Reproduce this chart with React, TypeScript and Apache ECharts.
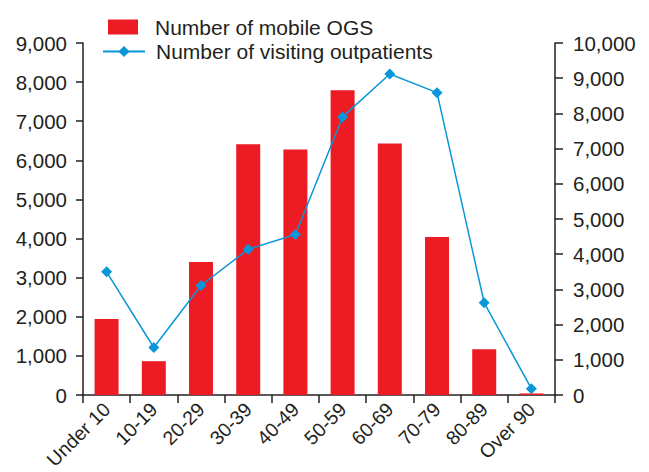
import React, { useEffect, useRef } from "react";
import * as echarts from "echarts";

const categories = ["Under 10", "10-19", "20-29", "30-39", "40-49", "50-59", "60-69", "70-79", "80-89", "Over 90"];
const mobileOGS = [1940, 865, 3400, 6410, 6280, 7790, 6430, 4040, 1170, 40];
const visitingOutpatients = [3500, 1350, 3110, 4140, 4560, 7900, 9120, 8590, 2620, 180];

const FONT = "Liberation Sans, Arial, sans-serif";
const TEXT = "#231f20";

export default function App() {
  const ref = useRef<HTMLDivElement>(null);
  useEffect(() => {
    if (!ref.current) return;
    const chart = echarts.init(ref.current, undefined, { renderer: "svg" });
    const axisLine = { show: true, lineStyle: { color: TEXT, width: 1.5 } };
    const axisTick = { show: true, length: 8, lineStyle: { color: TEXT, width: 1.5 } };
    chart.setOption({
      animation: false,
      textStyle: { fontFamily: FONT, color: TEXT },
      grid: { left: 83, right: 94, top: 43, bottom: 77, containLabel: false, outerBoundsMode: "none" },
      legend: [
        {
          data: [{ name: "Number of mobile OGS", icon: "rect" }],
          left: 108,
          top: 16.5,
          padding: 0,
          itemWidth: 30,
          itemHeight: 15,
          textStyle: { fontFamily: FONT, fontSize: 21, lineHeight: 15, color: TEXT, padding: [0, 0, 0, 12] },
        },
        {
          data: ["Number of visiting outpatients"],
          left: 102,
          top: 41,
          padding: 0,
          itemWidth: 42,
          itemHeight: 14,
          textStyle: { fontFamily: FONT, fontSize: 21, lineHeight: 14, color: TEXT, padding: [0, 0, 0, 6] },
        },
      ],
      xAxis: {
        type: "category",
        data: categories,
        axisLine,
        axisTick,
        splitLine: { show: false },
        axisLabel: { rotate: 45, fontSize: 19.5, color: TEXT, fontFamily: FONT, margin: 11, interval: 0 },
      },
      yAxis: [
        {
          type: "value",
          min: 0,
          max: 9000,
          interval: 1000,
          position: "left",
          axisLine,
          axisTick: { ...axisTick, length: 7 },
          splitLine: { show: false },
          axisLabel: { fontSize: 20.5, color: TEXT, fontFamily: FONT, margin: 16 },
        },
        {
          type: "value",
          min: 0,
          max: 10000,
          interval: 1000,
          position: "right",
          axisLine,
          axisTick,
          splitLine: { show: false },
          axisLabel: { fontSize: 20.5, color: TEXT, fontFamily: FONT, margin: 18 },
        },
      ],
      series: [
        {
          name: "Number of mobile OGS",
          type: "bar",
          data: mobileOGS,
          yAxisIndex: 0,
          barWidth: 24,
          itemStyle: { color: "#ed1c24" },
        },
        {
          name: "Number of visiting outpatients",
          type: "line",
          data: visitingOutpatients,
          yAxisIndex: 1,
          symbol: "diamond",
          symbolSize: 11,
          lineStyle: { color: "#0a96d8", width: 1.5 },
          itemStyle: { color: "#0a96d8" },
        },
      ],
    });
    return () => chart.dispose();
  }, []);
  return <div ref={ref} style={{ width: 649, height: 472, position: "absolute", left: 0, top: 0 }} />;
}
